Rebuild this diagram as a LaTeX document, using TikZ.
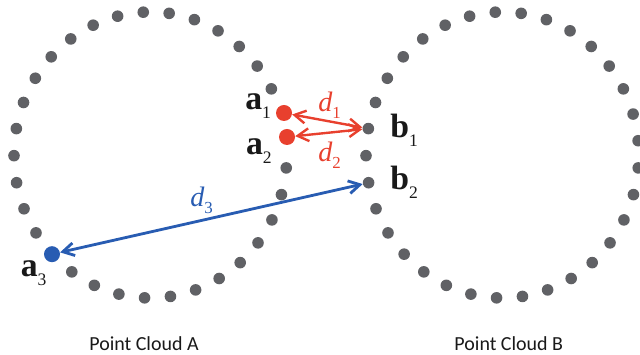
\documentclass[tikz,border=0pt]{standalone}
\usepackage{fontspec}
\setmainfont{Liberation Serif}
\newfontfamily\cloudfont{Carlito}
\usetikzlibrary{arrows.meta}
\definecolor{ptgray}{RGB}{96,97,101}
\definecolor{ptred}{RGB}{232,64,46}
\definecolor{ptblue}{RGB}{40,92,178}
\tikzset{
  gpt/.style={circle, fill=ptgray, inner sep=0pt, minimum size=0.29cm},
  hpt/.style={circle, inner sep=0pt, minimum size=0.4cm},
  vlabel/.style={font=\fontsize{24}{28}\selectfont, text=black!90, inner sep=0pt},
  dlabel/.style={font=\fontsize{20}{24}\selectfont, inner sep=0pt},
  dist/.style={line width=1.7pt, >={Straight Barb[length=2.8mm,width=3.2mm]}, <->},
  cname/.style={font=\cloudfont\fontsize{14.2}{17}\selectfont, text=black!90, inner sep=0pt},
}
\newcommand{\vlab}[2]{\textbf{#1}\raisebox{-0.24em}{\fontsize{12.5}{13}\selectfont #2}}
\newcommand{\dlab}[1]{\textit{d}\raisebox{-0.22em}{\fontsize{12}{13}\selectfont #1}}

\begin{document}
\begin{tikzpicture}
  \useasboundingbox (0,0) rectangle (16,8.875);
  % cloud A: 33 points on an ellipse, three of them picked out
  \begin{scope}[shift={(3.76,5)}]
    \foreach \k in {0,1,...,11,13,14,...,24,27,28,...,32}
      \node[gpt] (pa-\k) at ({93+360/33*\k}:3.41 and 3.575) {};
  \end{scope}
  \node[hpt, fill=ptred] (a1) at (7.10,6.05) {};
  \node[hpt, fill=ptred] (a2) at (7.175,5.45) {};
  \node[hpt, fill=ptblue] (a3) at (1.30,2.52) {};
  % cloud B
  \begin{scope}[shift={(12.56,5)}]
    \foreach \k in {0,...,32}
      \node[gpt] (pb-\k) at ({93+360/33*\k}:3.41 and 3.575) {};
  \end{scope}
  % point labels
  \node[vlabel, anchor=base east] (la1) at (6.78,6.125) {\vlab{a}{1}};
  \node[vlabel, anchor=base east] (la2) at (6.80,5.0) {\vlab{a}{2}};
  \node[vlabel, anchor=base east] (la3) at (1.17,1.95) {\vlab{a}{3}};
  \node[vlabel, anchor=base west] (lb1) at (9.75,5.425) {\vlab{b}{1}};
  \node[vlabel, anchor=base west] (lb2) at (9.75,4.125) {\vlab{b}{2}};
  % distances to the nearest points of B
  \draw[dist, ptred] (a1) -- (pb-7);
  \draw[dist, ptred] (a2) -- (pb-7);
  \draw[dist, ptblue, line width=2pt] (a3) -- (pb-9);
  \node[dlabel, text=ptred, anchor=base west] (ld1) at (7.95,6.075) {\dlab{1}};
  \node[dlabel, text=ptred, anchor=base west] (ld2) at (7.95,4.825) {\dlab{2}};
  \node[dlabel, text=ptblue, anchor=base west] (ld3) at (4.75,3.70) {\dlab{3}};
  % captions
  \node[cname, anchor=base] (na) at (3.6,0.1) {Point Cloud A};
  \node[cname, anchor=base] (nb) at (12.72,0.1) {Point Cloud B};
\end{tikzpicture}
\end{document}
